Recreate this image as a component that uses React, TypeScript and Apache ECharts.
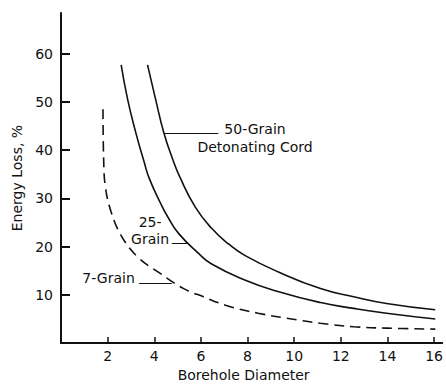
import React, { useEffect, useRef } from "react";
import * as echarts from "echarts";

const xTicks = [2, 4, 6, 8, 10, 12, 14, 16];
const yTicks = [10, 20, 30, 40, 50, 60];

const grain50 = [
  [3.71, 57.7], [4.06, 50.5], [4.41, 43.6], [4.77, 38.4], [5.12, 34.2],
  [5.76, 28.2], [6.46, 23.8], [7.2, 20.5], [7.88, 18.2], [9.3, 14.8],
  [11.13, 11.3], [12.55, 9.6], [13.96, 8.2], [16.05, 6.9],
];
const grain25 = [
  [2.58, 57.7], [2.86, 50.5], [3.21, 43.6], [3.57, 37.5], [3.78, 34.2],
  [4.27, 29.0], [4.6, 26.0], [5.05, 22.7], [5.9, 18.6], [6.46, 16.4],
  [7.88, 13.1], [9.3, 10.7], [11.13, 8.4], [12.55, 7.2], [13.96, 6.2], [16.05, 5.0],
];
const grain7 = [
  [1.8, 48.5], [1.83, 38.0], [1.9, 32.5], [2.15, 27.2], [2.58, 22.3],
  [3.28, 17.9], [4.27, 14.4], [5.26, 11.3], [6.11, 9.6], [7.09, 7.8],
  [8.45, 6.2], [10.14, 4.8], [11.12, 4.1], [12.55, 3.4], [13.96, 3.1], [16.05, 2.9],
];

const leader50 = [[4.41, 43.6], [6.75, 43.6]];
const leader25 = [[4.75, 20.8], [5.4, 20.8]];
const leader7 = [[3.35, 12.5], [4.75, 12.5]];

const labels = [
  { text: "50-Grain\nDetonating Cord", at: [8.32, 42.5], lh: 18 },
  { text: "25-\nGrain", at: [3.82, 23.4], lh: 17 },
  { text: "7-Grain", at: [2.04, 13.6], lh: 17 },
];

const FONT = "DejaVu Sans";
const FS = 14;
const INK = "#111";

function leader(seg: number[][]) {
  return {
    silent: true,
    symbol: ["none", "none"],
    label: { show: false },
    lineStyle: { color: INK, width: 1, type: "solid" as const },
    data: [[{ coord: seg[0] }, { coord: seg[1] }]],
  };
}

export default function App() {
  const ref = useRef<HTMLDivElement>(null);
  useEffect(() => {
    if (!ref.current) return;
    document.body.style.margin = "0";
    const chart = echarts.init(ref.current, undefined, { renderer: "svg" });
    chart.setOption({
      animation: false,
      backgroundColor: "#fff",
      grid: { left: 61, right: 0, top: 13, bottom: 42 },
      xAxis: {
        type: "value",
        min: 0,
        max: 16.35,
        interval: 2,
        name: "Borehole Diameter",
        nameLocation: "middle",
        nameGap: 17,
        nameTextStyle: { fontFamily: FONT, fontSize: FS, color: INK, padding: [0, 16, 0, 0] },
        axisLine: { lineStyle: { color: INK, width: 2 } },
        axisTick: {
          inside: true,
          length: 6,
          customValues: xTicks,
          lineStyle: { color: INK, width: 1.5 },
        },
        axisLabel: {
          customValues: xTicks,
          margin: 6,
          fontFamily: FONT,
          fontSize: FS,
          color: INK,
        },
        splitLine: { show: false },
      },
      yAxis: {
        type: "value",
        min: 0,
        max: 68.45,
        interval: 10,
        name: "Energy Loss, %",
        nameLocation: "middle",
        nameGap: 31,
        nameTextStyle: { fontFamily: FONT, fontSize: FS, color: INK },
        axisLine: { show: true, lineStyle: { color: INK, width: 2 } },
        axisTick: {
          show: true,
          inside: true,
          length: 9,
          customValues: yTicks,
          lineStyle: { color: INK, width: 2 },
        },
        axisLabel: {
          customValues: yTicks,
          margin: 8,
          fontFamily: FONT,
          fontSize: FS,
          color: INK,
        },
        splitLine: { show: false },
      },
      series: [
        {
          type: "line",
          data: grain50,
          smooth: 0.5,
          showSymbol: false,
          lineStyle: { color: INK, width: 1.6 },
          markLine: leader(leader50),
        },
        {
          type: "line",
          data: grain25,
          smooth: 0.5,
          showSymbol: false,
          lineStyle: { color: INK, width: 1.6 },
          markLine: leader(leader25),
        },
        {
          type: "line",
          data: grain7,
          smooth: 0.4,
          showSymbol: false,
          lineStyle: { color: INK, width: 1.6, type: [10, 6] },
          markLine: leader(leader7),
        },
      ],
    });
    const texts = labels.map((l) => {
      const p = chart.convertToPixel({ gridIndex: 0 }, l.at) as number[];
      return {
        type: "text",
        x: p[0],
        y: p[1],
        silent: true,
        style: {
          text: l.text,
          fill: INK,
          font: `${FS}px "${FONT}"`,
          align: "center",
          verticalAlign: "middle",
          lineHeight: l.lh,
        },
      };
    });
    chart.setOption({ graphic: texts });
    return () => chart.dispose();
  }, []);
  return <div ref={ref} style={{ width: 446, height: 387 }} />;
}
